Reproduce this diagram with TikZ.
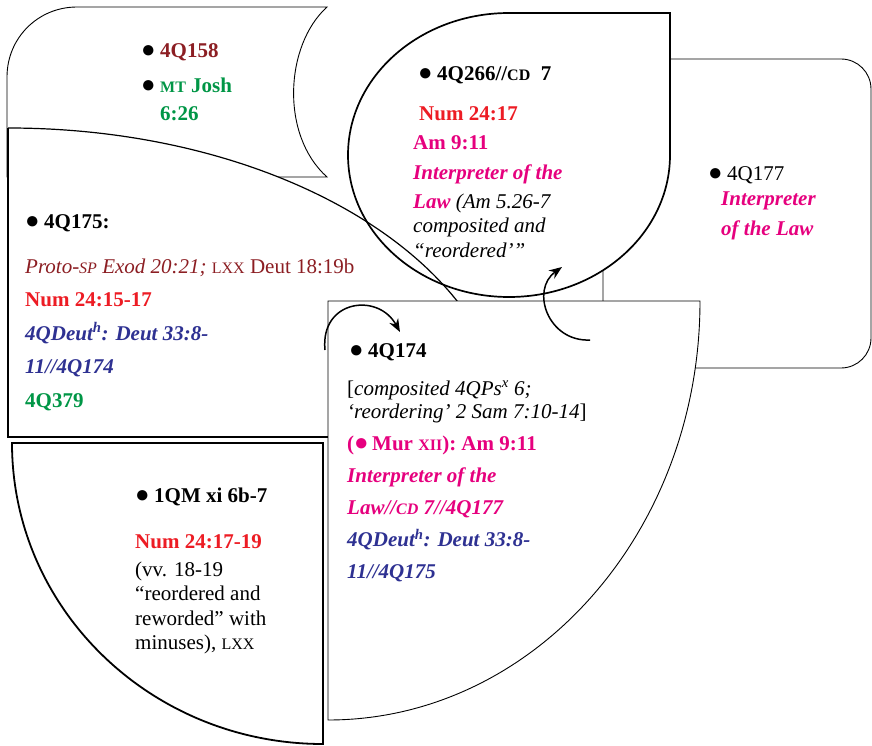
\documentclass[tikz,border=0pt]{standalone}
\usepackage{fontspec}
\setmainfont{Liberation Serif}
\usetikzlibrary{arrows.meta}

\definecolor{qmaroon}{RGB}{140,30,35}
\definecolor{qgreen}{RGB}{0,150,70}
\definecolor{qred}{RGB}{237,28,36}
\definecolor{qpink}{RGB}{230,0,126}
\definecolor{qblue}{RGB}{46,49,146}
\newcommand\fsc[1]{{\fontsize{16}{16}\selectfont #1}}
\newcommand\st{\rule{0pt}{16pt}}
\newcommand\bigdot{{\fontsize{24}{24}\selectfont ●}}
\newcommand\bul{\makebox[19pt][l]{\bigdot}}

\begin{document}
\begin{tikzpicture}[x=1pt, y=-1pt,
  panel/.style={draw, fill=white, line width=0.9pt},
  heavy/.style={draw, fill=white, line width=1.8pt},
  txt/.style={anchor=north west, inner sep=0pt, align=left, font=\fontsize{21}{24.5}\selectfont},
  arrow/.style={-{Stealth[length=13pt, width=10pt]}, line width=1.5pt},
]
  \useasboundingbox (0,0) rectangle (872,746);

  \path[panel] (7,177) -- (7,77) .. controls (7,38) and (38,7) .. (77,7) -- (327,7)
    .. controls (285,45) and (280,135) .. (327,177) -- cycle;
  \path[panel, rounded corners=30pt] (603,59) rectangle (871,368);

  \fill[white] (8,437) -- (8,128) arc[start angle=90, end angle=0, x radius=500pt, y radius=309pt] -- cycle;
  \fill[white] (670,13) -- (509,13) arc[start angle=90, end angle=360, x radius=161pt, y radius=142pt] -- cycle;
  \draw[line width=1.2pt] (8,128) arc[start angle=90, end angle=0, x radius=500pt, y radius=309pt];
  \draw[line width=2pt] (8,128) -- (8,437) -- (508,437);
  \draw[line width=1.7pt] (670,13) -- (509,13) arc[start angle=90, end angle=360, x radius=161pt, y radius=142pt] -- cycle;

  \path[panel] (328,301) -- (700,301) arc[start angle=0, end angle=-90, x radius=372pt, y radius=419pt] -- cycle;
  \path[heavy] (323,443) -- (12,443) arc[start angle=180, end angle=270, x radius=311pt, y radius=301pt] -- cycle;

  \node[txt] (t158) at (141,41) {\st\bul\textbf{\textcolor{qmaroon}{4Q158}}\\[10.5pt]
    \bul\textbf{\textcolor{qgreen}{\fsc{MT} Josh}}\\[3.5pt]
    \hspace*{19pt}\textbf{\textcolor{qgreen}{6:26}}};

  \node[txt, font=\fontsize{21}{33.5}\selectfont] (t175) at (25,212) {\st\bul\textbf{4Q175:}\\[11.5pt]
    \textcolor{qmaroon}{\textit{Proto-\fsc{SP} Exod 20:21;} \fsc{LXX} Deut 18:19b}\\
    \textcolor{qred}{\textbf{Num 24:15-17}}\\
    \textcolor{qblue}{\textbf{\textit{4QDeut\textsuperscript{h}: Deut 33:8-}}}\\
    \textcolor{qblue}{\textbf{\textit{11//4Q174}}}\\
    \textcolor{qgreen}{\textbf{4Q379}}};

  \node[txt] (t266) at (418,64) {\st\bul\textbf{4Q266//\fsc{CD}\enspace 7}};
  \node[txt] (t266b) at (413,104) {\st\hspace*{6pt}\textcolor{qred}{\textbf{Num 24:17}}\\[4.5pt]
    \textcolor{qpink}{\textbf{Am 9:11}}\\[5.5pt]
    \textcolor{qpink}{\textbf{\textit{Interpreter of the}}}\\[4.5pt]
    \textcolor{qpink}{\textbf{\textit{Law}}} \textit{(Am 5.26-7}\\
    \textit{composited and}\\
    \textit{“reordered’”}};

  \node[txt] (t177) at (708,164) {\st\bul 4Q177\\[0.5pt]
    \hspace*{13pt}\textcolor{qpink}{\textbf{\textit{Interpreter}}}\\[5.5pt]
    \hspace*{13pt}\textcolor{qpink}{\textbf{\textit{of the Law}}}};

  \node[txt, font=\fontsize{21}{23.5}\selectfont] (t174) at (347,341) {\st\hspace*{2pt}\bul\textbf{4Q174}\\[14.5pt]
    {[}\textit{composited 4QPs\textsuperscript{x} 6;}\\
    \textit{‘reordering’ 2 Sam 7:10-14}]\\[8.5pt]
    \textcolor{qpink}{\textbf{(\bigdot\,Mur \fsc{XII}): Am 9:11}}\\[8.5pt]
    \textcolor{qpink}{\textbf{\textit{Interpreter of the}}}\\[8.5pt]
    \textcolor{qpink}{\textbf{\textit{Law//\fsc{CD} 7//4Q177}}}\\[8.5pt]
    \textcolor{qblue}{\textbf{\textit{4QDeut\textsuperscript{h}: Deut 33:8-}}}\\[8.5pt]
    \textcolor{qblue}{\textbf{\textit{11//4Q175}}}};

  \node[txt] (t1qm) at (135,486) {\st\bul\textbf{1QM xi 6b-7}\\[21.5pt]
    \textcolor{qred}{\textbf{Num 24:17-19}}\\[3.5pt]
    (vv. 18-19\\
    “reordered and\\
    reworded” with\\
    minuses), \fsc{LXX}};

  \coordinate (from175) at (325,350);
  \coordinate (to174) at (400,332);
  \coordinate (from174) at (590,340);
  \coordinate (to266) at (562,267);
  \draw[arrow] (from175) .. controls (320,300) and (378,292) .. (to174);
  \draw[arrow] (from174) .. controls (548,342) and (530,290) .. (to266);
\end{tikzpicture}
\end{document}
